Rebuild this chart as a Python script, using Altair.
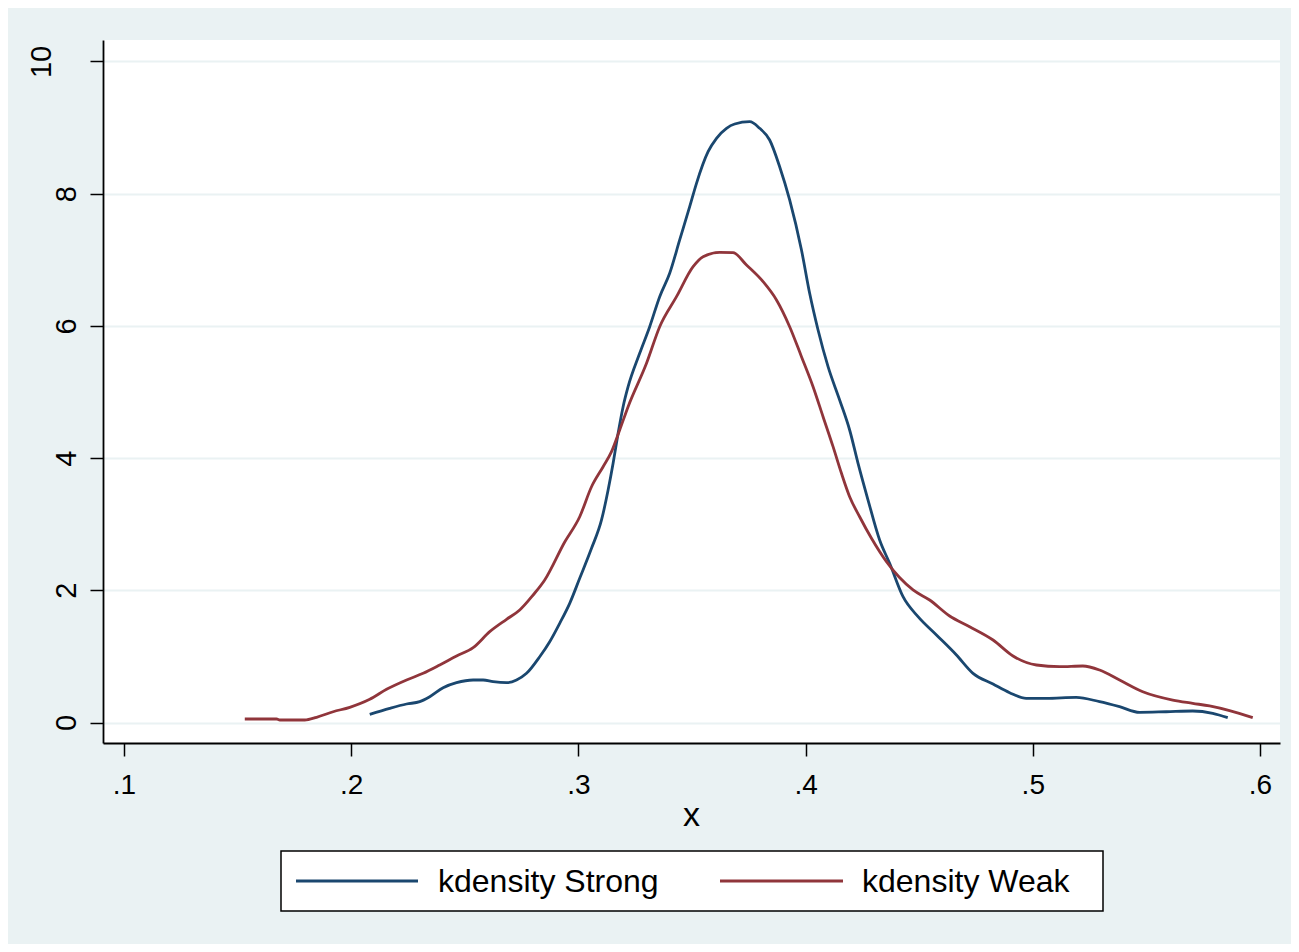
import altair as alt
import pandas as pd

FONT = "Liberation Sans, Arial, sans-serif"

strong_x = [0.2082, 0.2170, 0.2244, 0.2302, 0.2346, 0.2405, 0.2464, 0.2537, 0.2581, 0.2625,
            0.2684, 0.2728, 0.2772, 0.2830, 0.2874, 0.2918, 0.2962, 0.3006, 0.3058, 0.3102,
            0.3131, 0.3153, 0.3175, 0.3197, 0.3219, 0.3270, 0.3314, 0.3358, 0.3402, 0.3446,
            0.3490, 0.3520, 0.3571, 0.3608, 0.3652, 0.3688, 0.3754, 0.3798, 0.3842, 0.3886,
            0.3930, 0.3982, 0.4018, 0.4055, 0.4099, 0.4150, 0.4194, 0.4231, 0.4275, 0.4326,
            0.4370, 0.4429, 0.4495, 0.4576, 0.4664, 0.4737, 0.4825, 0.4898, 0.4971, 0.5059,
            0.5191, 0.5294, 0.5382, 0.5470, 0.5587, 0.5704, 0.5792, 0.5858]
strong_y = [0.124, 0.215, 0.280, 0.315, 0.390, 0.526, 0.602, 0.643, 0.643, 0.617,
            0.602, 0.643, 0.744, 0.995, 1.222, 1.501, 1.803, 2.182, 2.635, 3.064,
            3.517, 3.921, 4.375, 4.778, 5.080, 5.585, 5.988, 6.442, 6.796, 7.300,
            7.803, 8.157, 8.635, 8.838, 8.989, 9.054, 9.089, 8.989, 8.812, 8.408,
            7.905, 7.148, 6.493, 5.938, 5.383, 4.879, 4.425, 3.921, 3.366, 2.761,
            2.408, 1.903, 1.601, 1.324, 1.021, 0.744, 0.582, 0.451, 0.366, 0.366,
            0.381, 0.315, 0.239, 0.154, 0.163, 0.174, 0.139, 0.073]

weak_x = [0.1532, 0.1672, 0.1686, 0.1796, 0.1848, 0.1921, 0.1994, 0.2082, 0.2156, 0.2244,
          0.2317, 0.2390, 0.2464, 0.2537, 0.2610, 0.2684, 0.2742, 0.2801, 0.2852, 0.2940,
          0.3006, 0.3058, 0.3109, 0.3146, 0.3182, 0.3219, 0.3300, 0.3358, 0.3432, 0.3505,
          0.3549, 0.3622, 0.3681, 0.3740, 0.3813, 0.3872, 0.3930, 0.3982, 0.4033, 0.4077,
          0.4121, 0.4158, 0.4194, 0.4238, 0.4290, 0.4356, 0.4473, 0.4546, 0.4634, 0.4722,
          0.4825, 0.4913, 0.5016, 0.5118, 0.5220, 0.5294, 0.5382, 0.5484, 0.5616, 0.5704,
          0.5778, 0.5866, 0.5968]
weak_y = [0.053, 0.053, 0.038, 0.038, 0.079, 0.163, 0.230, 0.351, 0.502, 0.643,
          0.744, 0.870, 1.006, 1.132, 1.374, 1.561, 1.702, 1.929, 2.156, 2.731,
          3.113, 3.567, 3.870, 4.097, 4.425, 4.778, 5.434, 5.988, 6.442, 6.896,
          7.047, 7.113, 7.107, 6.921, 6.669, 6.392, 5.988, 5.534, 5.080, 4.626,
          4.173, 3.770, 3.416, 3.113, 2.787, 2.433, 2.005, 1.853, 1.611, 1.449,
          1.248, 1.006, 0.870, 0.844, 0.855, 0.794, 0.643, 0.466, 0.340, 0.290,
          0.250, 0.179, 0.073]

series_names = ["kdensity Strong", "kdensity Weak"]
series_colors = ["#1A476F", "#90353B"]
x_ticks = [0.1, 0.2, 0.3, 0.4, 0.5, 0.6]
y_ticks = [0, 2, 4, 6, 8, 10]

df = pd.concat([
    pd.DataFrame({"x": strong_x, "y": strong_y, "series": series_names[0], "o": range(len(strong_x))}),
    pd.DataFrame({"x": weak_x, "y": weak_y, "series": series_names[1], "o": range(len(weak_x))}),
])
legend_df = pd.DataFrame({"series": series_names})

color_scale = alt.Scale(domain=series_names, range=series_colors)

lines = alt.Chart(df).mark_line(strokeWidth=2.8, interpolate="monotone").encode(
    x=alt.X("x:Q",
            scale=alt.Scale(domain=[0.0908, 0.6088], nice=False, zero=False),
            axis=alt.Axis(values=x_ticks, labelExpr="replace(format(datum.value, '.1f'), '0.', '.')",
                          grid=False, title="x", tickSize=13, tickWidth=1.5, tickColor="black",
                          domainColor="black", domainWidth=1.8, labelFontSize=28, labelFont=FONT,
                          labelColor="black", labelPadding=15, titleFont=FONT, titleFontSize=34,
                          titleFontWeight="normal", titleColor="black", titleX=588, titleY=82,
                          titleBaseline="alphabetic", titleAlign="center")),
    y=alt.Y("y:Q",
            scale=alt.Scale(domain=[-0.310, 10.325], nice=False, zero=False),
            axis=alt.Axis(values=y_ticks, format="d", title=None, grid=True, gridColor="#EAF2F3",
                          gridWidth=2.2, tickSize=13, tickWidth=1.5, tickColor="black",
                          domainColor="black", domainWidth=1.8, labelFontSize=29, labelFont=FONT,
                          labelColor="black", labelAngle=270, labelAlign="center",
                          labelBaseline="alphabetic",
                          labelPadding={"condition": {"test": "datum.value == 10", "value": 40}, "value": 15})),
    color=alt.Color("series:N", scale=color_scale, legend=None),
    order="o:Q",
)

# legend drawn by hand below the plot
legend_box = alt.Chart(legend_df).transform_filter(
    alt.datum.series == series_names[0]
).mark_rect(fill="white", stroke="black", strokeWidth=1.5).encode(
    x=alt.value(178), x2=alt.value(1000), y=alt.value(811), y2=alt.value(871)
)

def legend_entry(name, x0, x1, xt):
    base = alt.Chart(legend_df).transform_filter(alt.datum.series == name)
    rule = base.mark_rule(strokeWidth=2.8).encode(
        x=alt.value(x0), x2=alt.value(x1), y=alt.value(841),
        color=alt.Color("series:N", scale=color_scale, legend=None),
    )
    text = base.mark_text(align="left", baseline="middle", font=FONT, fontSize=32, color="black").encode(
        x=alt.value(xt), y=alt.value(842), text="series:N"
    )
    return rule + text

chart = alt.layer(
    lines,
    legend_box,
    legend_entry(series_names[0], 193, 315, 335),
    legend_entry(series_names[1], 617, 740, 759),
).properties(
    width=1177, height=703,
    autosize=alt.AutoSizeParams(type="none"),
    padding={"left": 95, "top": 32, "right": 11, "bottom": 201},
    background="#EAF2F3",
).configure_view(fill="white", strokeWidth=0)

chart.save("out.html", embed_options={"renderer": "svg", "actions": False})
